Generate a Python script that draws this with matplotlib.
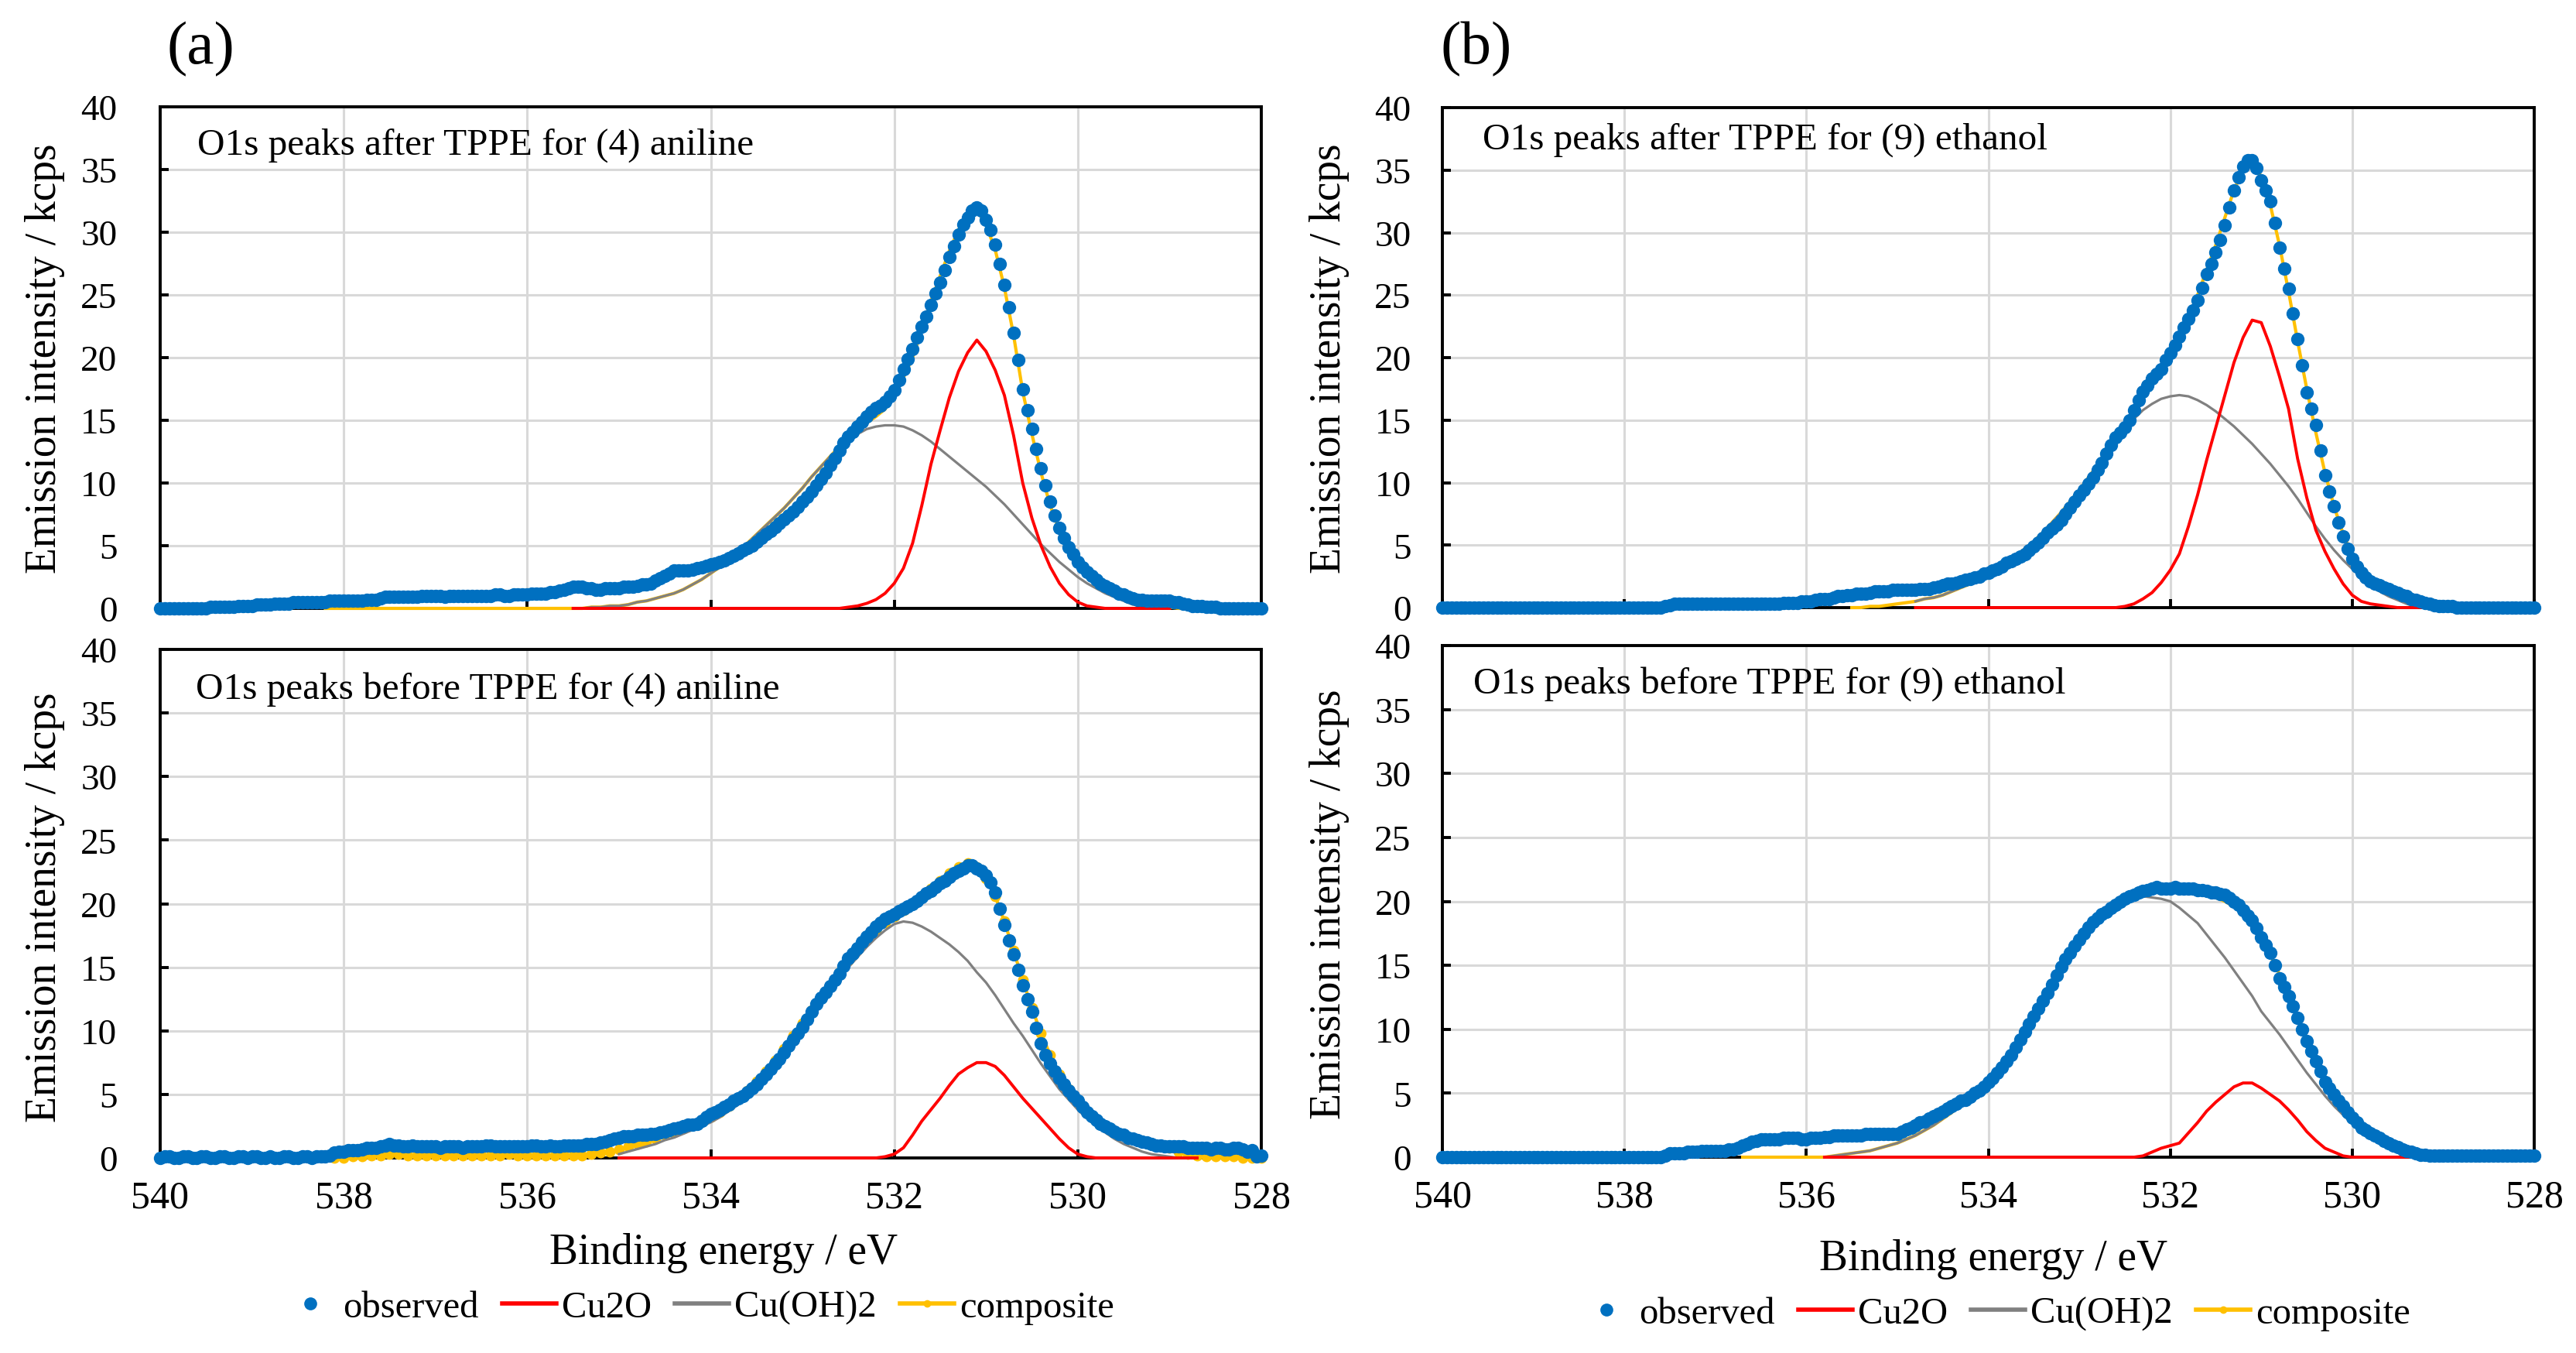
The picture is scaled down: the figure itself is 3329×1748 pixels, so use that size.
import numpy as np
import matplotlib
matplotlib.use("Agg")
import matplotlib.pyplot as plt
from matplotlib.lines import Line2D

plt.rcParams['font.family'] = 'serif'
plt.rcParams['font.serif'] = ['Liberation Serif', 'DejaVu Serif']

BLUE = '#0070C0'
RED = '#FF0000'
GRAY = '#808080'
YELLOW = '#FFC000'
GRID = '#D9D9D9'

STEP = 0.1
OBS_START = 540.0     # observed points at 540.0, 539.9, ...
MID_START = 539.95    # observed points at 539.95, 539.85, ...

# ---- (a) after TPPE, (4) aniline ----
obs_a_after = [0.0, 0.0, 0.0, 0.0, 0.0, 0.0, 0.1, 0.1, 0.1, 0.2,
               0.2, 0.3, 0.3, 0.4, 0.4, 0.5, 0.5, 0.5, 0.5, 0.6,
               0.6, 0.6, 0.6, 0.7, 0.8, 0.9, 0.9, 0.9, 0.9, 1.0,
               1.0, 0.9, 1.0, 1.0, 1.0, 1.0, 1.0, 1.1, 1.0, 1.1,
               1.1, 1.2, 1.2, 1.3, 1.5, 1.7, 1.7, 1.6, 1.5, 1.6,
               1.6, 1.7, 1.8, 1.9, 2.2, 2.6, 3.0, 3.0, 3.1, 3.3,
               3.5, 3.7, 4.0, 4.4, 4.8, 5.3, 5.9, 6.5, 7.1, 7.7,
               8.5, 9.3, 10.3, 11.4, 12.6, 13.7, 14.5, 15.3, 16.0, 16.5,
               17.4, 19.1, 20.7, 22.5, 24.2, 26.0, 28.0, 29.8, 31.2, 32.0,
               31.0, 29.0, 25.8, 22.0, 17.5, 14.3, 11.2, 8.5, 6.4, 4.9,
               3.7, 2.9, 2.3, 1.8, 1.4, 1.1, 0.8, 0.7, 0.6, 0.6,
               0.6, 0.5, 0.3, 0.2, 0.1, 0.1, 0.0, 0.0, 0.0, 0.0, 0.0]
mid_a_after = [0.0, 0.0, 0.0, 0.0, 0.0, 0.1, 0.1, 0.1, 0.2, 0.2,
               0.3, 0.3, 0.4, 0.4, 0.5, 0.5, 0.5, 0.5, 0.6, 0.6,
               0.6, 0.6, 0.7, 0.7, 0.9, 0.9, 0.9, 0.9, 1.0, 1.0,
               1.0, 1.0, 1.0, 1.0, 1.0, 1.0, 1.1, 1.0, 1.1, 1.1,
               1.2, 1.2, 1.3, 1.4, 1.6, 1.7, 1.6, 1.5, 1.6, 1.6,
               1.7, 1.7, 1.9, 2.0, 2.4, 2.8, 3.0, 3.0, 3.2, 3.4,
               3.6, 3.8, 4.2, 4.6, 5.0, 5.6, 6.2, 6.8, 7.4, 8.1,
               8.9, 9.8, 10.8, 12.0, 13.2, 14.1, 14.9, 15.7, 16.2, 16.9,
               18.2, 19.9, 21.6, 23.3, 25.1, 27.0, 28.9, 30.6, 31.7, 31.7,
               30.2, 27.5, 24.0, 19.8, 15.8, 12.7, 9.8, 7.4, 5.6, 4.3,
               3.3, 2.6, 2.0, 1.6, 1.2, 0.9, 0.7, 0.6, 0.6, 0.6,
               0.5, 0.4, 0.2, 0.2, 0.1, 0.0, 0.0, 0.0, 0.0, 0.0]
comp_a_after_start = 538.2
comp_a_after = [0.0] * 27 + [
    0.0, 0.0, 0.1, 0.1, 0.2, 0.2, 0.3, 0.5, 0.6, 0.8,
    1.0, 1.2, 1.5, 1.9, 2.3, 2.8, 3.3, 3.9, 4.6, 5.2,
    5.9, 6.6, 7.3, 8.0, 8.8, 9.6, 10.5, 11.3, 12.1, 12.9,
    13.6, 14.2, 14.8, 15.3, 15.9,
    16.9, 18.4, 20.0, 22.2, 24.5, 26.5, 28.5, 30.2, 31.3, 31.8,
    30.6, 28.6, 25.6, 21.8, 17.3, 13.9, 10.8, 8.2, 6.2, 4.6,
    3.4, 2.5, 1.9, 1.4, 1.0, 0.7, 0.5, 0.3, 0.2, 0.1, 0.1, 0.0, 0.0]
fit_a_after_start = 535.5
cuoh2_a_after = [0.0, 0.0, 0.1, 0.1, 0.2, 0.2, 0.3, 0.5, 0.6, 0.8,
                 1.0, 1.2, 1.5, 1.9, 2.3, 2.8, 3.3, 3.9, 4.6, 5.2,
                 5.9, 6.6, 7.3, 8.0, 8.8, 9.6, 10.5, 11.3, 12.1, 12.8,
                 13.4, 13.9, 14.3, 14.5, 14.6, 14.6, 14.5, 14.2, 13.8, 13.3,
                 12.7, 12.1, 11.5, 10.9, 10.3, 9.7, 9.0, 8.3, 7.5, 6.7,
                 5.9, 5.1, 4.4, 3.7, 3.1, 2.5, 2.0, 1.6, 1.2, 0.9,
                 0.6, 0.3, 0.2, 0.1, 0.0, 0.0]
cu2o_a_after = [0.0] * 30 + [
    0.1, 0.2, 0.4, 0.7, 1.2, 2.0, 3.2, 5.2, 8.2, 11.5,
    14.2, 16.8, 18.9, 20.4, 21.4, 20.5, 19.0, 17.0, 13.8, 10.0,
    7.2, 5.0, 3.3, 2.0, 1.1, 0.5, 0.2, 0.1, 0.0, 0.0,
    0.0, 0.0, 0.0, 0.0, 0.0, 0.0]

# ---- (a) before TPPE, (4) aniline ----
obs_a_before = [0.0, 0.1, 0.0, 0.1, 0.0, 0.1, 0.0, 0.1, 0.0, 0.1,
                0.1, 0.0, 0.1, 0.0, 0.1, 0.0, 0.1, 0.1, 0.1, 0.4,
                0.5, 0.6, 0.7, 0.8, 0.9, 1.1, 1.0, 0.9, 0.9, 0.9,
                0.9, 0.9, 0.9, 0.8, 0.9, 0.9, 1.0, 0.9, 0.9, 0.9,
                0.9, 1.0, 0.9, 0.9, 1.0, 1.0, 1.0, 1.1, 1.2, 1.4,
                1.6, 1.7, 1.8, 1.8, 1.9, 2.1, 2.3, 2.5, 2.6, 2.9,
                3.5, 3.8, 4.2, 4.7, 5.2, 5.8, 6.6, 7.4, 8.3, 9.3,
                10.3, 11.5, 12.6, 13.5, 14.5, 15.7, 16.5, 17.4, 18.2, 18.8,
                19.2, 19.6, 20.0, 20.5, 21.0, 21.6, 22.1, 22.6, 23.0, 22.8,
                22.2, 20.9, 18.3, 16.0, 13.6, 11.5, 9.0, 7.4, 6.3, 5.3,
                4.5, 3.6, 3.0, 2.5, 2.1, 1.8, 1.5, 1.3, 1.1, 1.0, 0.9,
                0.9, 0.8, 0.8, 0.8, 0.8, 0.7, 0.8, 0.7, 0.6, 0.2]
mid_a_before = [0.1, 0.0, 0.1, 0.0, 0.1, 0.0, 0.1, 0.0, 0.1, 0.0,
                0.1, 0.0, 0.0, 0.1, 0.0, 0.1, 0.0, 0.1, 0.2, 0.5,
                0.6, 0.6, 0.8, 0.8, 1.0, 1.0, 0.9, 1.0, 0.9, 0.9,
                0.8, 0.9, 0.9, 0.9, 0.9, 1.0, 0.9, 0.9, 0.9, 0.9,
                1.0, 0.9, 1.0, 0.9, 1.0, 1.0, 1.1, 1.1, 1.3, 1.5,
                1.7, 1.7, 1.8, 1.9, 2.0, 2.2, 2.4, 2.6, 2.7, 3.2,
                3.6, 4.0, 4.5, 4.9, 5.5, 6.2, 7.0, 7.8, 8.8, 9.8,
                10.9, 12.1, 13.0, 14.0, 15.1, 16.1, 17.0, 17.8, 18.5, 19.0,
                19.4, 19.8, 20.2, 20.8, 21.3, 21.8, 22.4, 22.8, 23.0, 22.6,
                21.7, 19.6, 17.1, 14.8, 12.5, 10.2, 8.1, 6.8, 5.8, 4.9,
                4.0, 3.3, 2.7, 2.3, 1.9, 1.6, 1.4, 1.2, 1.0, 0.9,
                0.9, 0.9, 0.8, 0.8, 0.7, 0.8, 0.7, 0.8, 0.5, 0.1]
comp_a_before_start = 538.1
comp_a_before = [0.0, 0.0, 0.1, 0.1, 0.2, 0.2, 0.3, 0.3, 0.2, 0.2,
                 0.2, 0.2, 0.2, 0.2, 0.2, 0.2, 0.2, 0.2, 0.2, 0.3,
                 0.2, 0.2, 0.2, 0.2, 0.2, 0.2, 0.2, 0.2,
    0.3, 0.4, 0.5, 0.7, 0.9, 1.1, 1.3, 1.5, 1.8, 2.0,
    2.3, 2.6, 2.9, 3.2, 3.6, 4.1, 4.6, 5.3, 6.0, 6.8,
    7.7, 8.6, 9.6, 10.6, 11.6, 12.6, 13.6, 14.6, 15.5, 16.4,
    17.2, 17.9, 18.5, 19.0, 19.5, 20.0, 20.6, 21.2, 21.8, 22.4,
    22.9, 23.2, 22.9, 22.0, 20.6, 18.6, 16.3, 14.0, 11.8, 9.8,
    8.1, 6.6, 5.4, 4.4, 3.6, 3.0, 2.5, 2.1, 1.8, 1.5,
    1.3, 1.1, 1.0, 0.8, 0.5, 0.3, 0.2, 0.1, 0.1, 0.1,
    0.1, 0.0, 0.0, 0.0]
fit_a_before_start = 535.0
cuoh2_a_before = [0.3, 0.5, 0.7, 0.9, 1.1, 1.4, 1.6, 1.9, 2.2, 2.5,
                  2.8, 3.2, 3.7, 4.2, 4.9, 5.6, 6.4, 7.3, 8.2, 9.2,
                  10.2, 11.2, 12.2, 13.2, 14.1, 15.0, 15.8, 16.6, 17.3, 17.9,
                  18.4, 18.6, 18.5, 18.2, 17.8, 17.3, 16.8, 16.2, 15.5, 14.6,
                  13.8, 12.8, 11.7, 10.6, 9.6, 8.5, 7.4, 6.4, 5.4, 4.6,
                  3.8, 3.1, 2.5, 2.0, 1.5, 1.1, 0.8, 0.5, 0.3, 0.2,
                  0.1, 0.0, 0.0, 0.0]
cu2o_a_before = [0.0] * 29 + [
    0.1, 0.3, 0.8, 1.8, 2.9, 3.8, 4.7, 5.7, 6.6, 7.1,
    7.5, 7.5, 7.2, 6.5, 5.6, 4.7, 3.9, 3.1, 2.3, 1.5,
    0.8, 0.3, 0.1, 0.0, 0.0, 0.0, 0.0, 0.0, 0.0, 0.0,
    0.0, 0.0, 0.0, 0.0, 0.0]

# ---- (b) after TPPE, (9) ethanol ----
obs_b_after = [0.0] * 25 + [
    0.2, 0.3, 0.3, 0.3, 0.3, 0.3, 0.3, 0.3, 0.3, 0.3, 0.3, 0.3, 0.3, 0.4, 0.4,
    0.5, 0.6, 0.7, 0.8, 0.9, 1.0, 1.1, 1.2, 1.3, 1.3,
    1.4, 1.4, 1.4, 1.5, 1.6, 1.8, 1.9, 2.1, 2.3, 2.5,
    2.8, 3.1, 3.6, 3.9, 4.3, 4.9, 5.6, 6.3, 7.0, 8.0,
    9.0, 9.9, 11.0, 12.3, 13.6, 14.4, 15.8, 17.3, 18.3, 19.1,
    20.4, 21.7, 23.1, 24.6, 26.7, 28.4, 30.6, 33.4, 35.3, 35.8,
    34.2, 32.5, 28.8, 25.5, 21.5, 17.2, 14.6, 10.6, 8.1, 5.7,
    3.9, 2.8, 2.1, 1.8, 1.5, 1.2, 0.9, 0.6, 0.4, 0.2, 0.1,
    0.1, 0.0, 0.0, 0.0, 0.0, 0.0, 0.0, 0.0, 0.0, 0.0]
mid_b_after = [0.0] * 24 + [0.1] + [
    0.3, 0.3, 0.3, 0.3, 0.3, 0.3, 0.3, 0.3, 0.3, 0.3, 0.3, 0.3, 0.4, 0.4, 0.5,
    0.5, 0.7, 0.7, 0.9, 1.0, 1.1, 1.1, 1.3, 1.3, 1.4,
    1.4, 1.4, 1.5, 1.5, 1.7, 1.9, 2.0, 2.2, 2.4, 2.7,
    3.0, 3.3, 3.7, 4.1, 4.6, 5.2, 6.0, 6.6, 7.5, 8.5,
    9.4, 10.4, 11.6, 13.0, 14.0, 15.0, 16.6, 17.8, 18.7, 19.8,
    21.0, 22.4, 23.8, 25.6, 27.5, 29.4, 32.0, 34.4, 35.8, 35.2,
    33.4, 30.8, 27.1, 23.5, 19.4, 15.9, 12.6, 9.3, 6.8, 4.7,
    3.3, 2.4, 1.9, 1.6, 1.3, 1.0, 0.7, 0.5, 0.3, 0.1,
    0.1, 0.0, 0.0, 0.0, 0.0, 0.0, 0.0, 0.0, 0.0, 0.0]
comp_b_after_start = 535.5
comp_b_after = [0.0, 0.0, 0.1, 0.1, 0.2, 0.3, 0.4, 0.5, 0.7, 0.8,
                1.0, 1.3, 1.6, 1.9, 2.3, 2.7, 3.1, 3.6, 4.1, 4.7,
                5.3, 6.0, 6.8, 7.6, 8.5, 9.4, 10.4, 11.4, 12.5, 13.6,
                14.6, 15.7, 16.9, 18.0, 19.2, 20.4, 21.8, 23.3, 25.0, 27.0,
                29.0, 31.2, 33.4, 35.0, 35.6, 34.5, 32.2, 29.0, 25.3, 21.3,
                17.5, 14.0, 10.8, 8.1, 5.9, 4.2, 3.0, 2.1, 1.5, 1.0,
                0.7, 0.4, 0.2, 0.1, 0.0, 0.0]
fit_b_after_start = 534.8
cuoh2_b_after = [0.5, 0.7, 0.8, 1.0, 1.3, 1.6, 1.9, 2.3, 2.7, 3.1,
                 3.6, 4.1, 4.7, 5.3, 6.0, 6.8, 7.6, 8.5, 9.4, 10.4,
                 11.4, 12.4, 13.4, 14.3, 15.1, 15.8, 16.3, 16.7, 16.9, 17.0,
                 16.9, 16.6, 16.2, 15.7, 15.1, 14.5, 13.8, 13.1, 12.3, 11.5,
                 10.6, 9.7, 8.7, 7.6, 6.5, 5.5, 4.6, 3.8, 3.1, 2.4,
                 1.8, 1.3, 0.9, 0.6, 0.3, 0.1, 0.0]
cu2o_b_after = [0.0] * 23 + [
    0.1, 0.3, 0.7, 1.2, 2.0, 3.0, 4.3, 6.5, 9.0, 11.8,
    14.4, 17.0, 19.6, 21.6, 23.0, 22.8, 20.9, 18.5, 15.9, 11.9,
    8.8, 6.2, 4.5, 3.1, 1.9, 1.0, 0.5, 0.3, 0.2, 0.1,
    0.0, 0.0, 0.0, 0.0]

# ---- (b) before TPPE, (9) ethanol ----
obs_b_before = [0.0] * 25 + [
    0.3, 0.3, 0.4, 0.4, 0.5, 0.5, 0.5, 0.6, 0.9, 1.2,
    1.4, 1.4, 1.4, 1.5, 1.5, 1.4, 1.5, 1.6, 1.7, 1.7,
    1.7, 1.7, 1.8, 1.8, 1.8, 1.8, 2.2, 2.5, 2.8, 3.2,
    3.6, 4.0, 4.4, 4.7, 5.2, 5.9, 6.6, 7.5, 8.6, 9.8,
    11.0, 12.2, 13.5, 14.9, 16.0, 17.0, 18.0, 18.7, 19.2, 19.7,
    20.2, 20.5, 20.8, 21.0, 21.0, 21.0, 21.0, 21.0, 20.9, 20.8,
    20.7, 20.5, 20.0, 19.3, 18.5, 17.2, 16.0, 14.0, 12.6, 10.9,
    9.1, 7.5, 5.9, 4.9, 4.0, 3.1, 2.3, 1.9, 1.5, 1.1,
    0.8, 0.5, 0.3, 0.2, 0.1, 0.1, 0.1, 0.1, 0.1, 0.1,
    0.1, 0.1, 0.1, 0.1, 0.1, 0.1]
mid_b_before = [0.0] * 24 + [0.1] + [
    0.3, 0.3, 0.4, 0.5, 0.5, 0.5, 0.6, 0.7, 1.0, 1.3,
    1.4, 1.4, 1.5, 1.5, 1.4, 1.5, 1.5, 1.6, 1.7, 1.7,
    1.7, 1.8, 1.8, 1.8, 1.8, 2.0, 2.3, 2.7, 3.0, 3.4,
    3.8, 4.2, 4.5, 5.0, 5.5, 6.2, 7.0, 8.0, 9.2, 10.4,
    11.6, 12.8, 14.2, 15.5, 16.5, 17.5, 18.4, 19.0, 19.5, 20.0,
    20.4, 20.7, 20.9, 21.1, 21.0, 21.1, 21.0, 21.0, 20.9, 20.7,
    20.6, 20.3, 19.7, 18.9, 17.9, 16.6, 15.0, 13.3, 11.8, 10.0,
    8.3, 6.7, 5.4, 4.4, 3.5, 2.7, 2.1, 1.7, 1.3, 0.9,
    0.6, 0.4, 0.2, 0.1, 0.1, 0.1, 0.1, 0.1, 0.1, 0.1,
    0.1, 0.1, 0.1, 0.1, 0.1]
comp_b_before_start = 536.7
comp_b_before = [0.0] * 9 + [
    0.0, 0.1, 0.2, 0.3, 0.4, 0.5, 0.7, 0.9, 1.1, 1.4,
    1.7, 2.1, 2.5, 3.0, 3.5, 4.1, 4.7, 5.3, 6.0, 6.8,
    7.7, 8.7, 9.8, 11.0, 12.2, 13.5, 14.8, 16.0, 17.0, 17.9,
    18.7, 19.3, 19.8, 20.2, 20.5, 20.7, 20.8, 20.9, 20.9, 20.9,
    20.8, 20.7, 20.5, 20.3, 20.0, 19.6, 19.0, 18.2, 17.1, 15.8,
    14.3, 12.7, 11.0, 9.3, 7.7, 6.2, 4.9, 3.9, 3.0, 2.3,
    1.7, 1.2, 0.8, 0.5, 0.3, 0.1]
fit_b_before_start = 535.8
cuoh2_b_before = [0.0, 0.1, 0.2, 0.3, 0.4, 0.5, 0.7, 0.9, 1.1, 1.4,
                  1.7, 2.1, 2.5, 3.0, 3.5, 4.1, 4.7, 5.3, 6.0, 6.8,
                  7.7, 8.7, 9.8, 11.0, 12.2, 13.5, 14.8, 16.0, 17.0, 17.9,
                  18.7, 19.3, 19.8, 20.1, 20.3, 20.4, 20.3, 20.2, 20.0, 19.5,
                  18.9, 18.3, 17.4, 16.5, 15.6, 14.6, 13.6, 12.6, 11.4, 10.5,
                  9.6, 8.6, 7.6, 6.6, 5.7, 4.8, 4.0, 3.3, 2.6, 2.0,
                  1.5, 1.1, 0.7, 0.4, 0.2, 0.0]
cu2o_b_before = [0.0] * 35 + [
    0.1, 0.4, 0.7, 0.9, 1.1, 1.9, 2.7, 3.6, 4.3, 4.9,
    5.5, 5.8, 5.8, 5.4, 4.9, 4.4, 3.7, 2.9, 2.0, 1.3,
    0.7, 0.4, 0.1, 0.0, 0.0, 0.0, 0.0, 0.0, 0.0, 0.0,
    0.0]

titles = ['O1s peaks after TPPE for (4) aniline',
          'O1s peaks before TPPE for (4) aniline',
          'O1s peaks after TPPE for (9) ethanol',
          'O1s peaks before TPPE for (9) ethanol']
legend_labels = ['observed', 'Cu2O', 'Cu(OH)2', 'composite']
x_ticks = [540, 538, 536, 534, 532, 530, 528]
y_ticks = [0, 5, 10, 15, 20, 25, 30, 35, 40]


def energies(start, n):
    return start - STEP * np.arange(n)


W, H = 3329, 1749
fig = plt.figure(figsize=(W / 100, H / 100), dpi=100)


def box(l, r, t, b):
    return [l / W, 1 - b / H, (r - l) / W, (b - t) / H]


def draw(rect, title, tpos, obs, mid, comp, comp_start, cuoh2, cu2o,
         fit_start, bottom, ypad, comp_ms=0):
    ax = fig.add_axes(rect)
    ax.plot(energies(comp_start, len(comp)), comp, color=YELLOW, lw=3,
            marker='o' if comp_ms else None, ms=comp_ms, mew=0,
            zorder=3, clip_on=False)
    ax.plot(energies(fit_start, len(cuoh2)), cuoh2, color=GRAY, lw=2.3,
            zorder=4, clip_on=False)
    ax.plot(energies(fit_start, len(cu2o)), cu2o, color=RED, lw=2.8,
            zorder=5, clip_on=False)
    for start, vals in ((OBS_START, obs), (MID_START, mid)):
        ax.plot(energies(start, len(vals)), vals, 'o', color=BLUE, ms=12.5,
                mew=0, zorder=6, clip_on=False)
    ax.set_xlim(540, 528)
    ax.set_ylim(0, 40)
    ax.set_xticks(x_ticks)
    ax.set_yticks(y_ticks)
    ax.grid(True, color=GRID, lw=2.2)
    ax.set_axisbelow(True)
    for s in ax.spines.values():
        s.set_linewidth(2.8)
        s.set_color('black')
    ax.tick_params(axis='both', direction='in', length=8, width=2.8,
                   colors='black')
    ax.tick_params(axis='y', labelsize=34, pad=ypad)
    ax.tick_params(axis='x', labelsize=36, pad=20, labelbottom=bottom)
    ax.text(tpos[0], tpos[1], title, transform=ax.transAxes, fontsize=35.5,
            ha='left', va='baseline')
    return ax


draw(box(207, 1630, 139, 787), titles[0], (0.034, 0.907),
     obs_a_after, mid_a_after, comp_a_after, comp_a_after_start,
     cuoh2_a_after, cu2o_a_after, fit_a_after_start, False, 40)
draw(box(207, 1630, 840, 1497), titles[1], (0.032, 0.904),
     obs_a_before, mid_a_before, comp_a_before, comp_a_before_start,
     cuoh2_a_before, cu2o_a_before, fit_a_before_start, True, 40,
     comp_ms=10)
draw(box(1864, 3275, 140, 786), titles[2], (0.037, 0.918),
     obs_b_after, mid_b_after, comp_b_after, comp_b_after_start,
     cuoh2_b_after, cu2o_b_after, fit_b_after_start, False, 29)
draw(box(1864, 3275, 835, 1496), titles[3], (0.028, 0.908),
     obs_b_before, mid_b_before, comp_b_before, comp_b_before_start,
     cuoh2_b_before, cu2o_b_before, fit_b_before_start, True, 29)

# y labels
for x, y in [(58, 463), (58, 1172), (1718, 463), (1718, 1168)]:
    fig.text(x / W, 1 - y / H, 'Emission intensity / kcps', rotation=90,
             ha='center', va='center', fontsize=40)

# x labels
fig.text(935 / W, 1 - 1633 / H, 'Binding energy / eV', ha='center',
         va='baseline', fontsize=40)
fig.text(2576 / W, 1 - 1641 / H, 'Binding energy / eV', ha='center',
         va='baseline', fontsize=40)

# panel letters
fig.text(259 / W, 1 - 64 / H, '(a)', ha='center', va='center', fontsize=57)
fig.text(1908 / W, 1 - 64 / H, '(b)', ha='center', va='center', fontsize=57)

handles = [Line2D([], [], ls='none', marker='o', ms=12, mew=0, color=BLUE),
           Line2D([], [], color=RED, lw=4),
           Line2D([], [], color=GRAY, lw=4),
           Line2D([], [], color=YELLOW, lw=4, marker='o', ms=7, mew=0)]
for cx, cy in [(903, 1690), (2578, 1698)]:
    fig.legend(handles, legend_labels, loc='center',
               bbox_to_anchor=(cx / W, 1 - cy / H), ncol=4, frameon=False,
               fontsize=35, handlelength=1.44, handletextpad=0.15,
               columnspacing=0.62, borderpad=0, borderaxespad=0)

fig.savefig('out.png', dpi=100)
